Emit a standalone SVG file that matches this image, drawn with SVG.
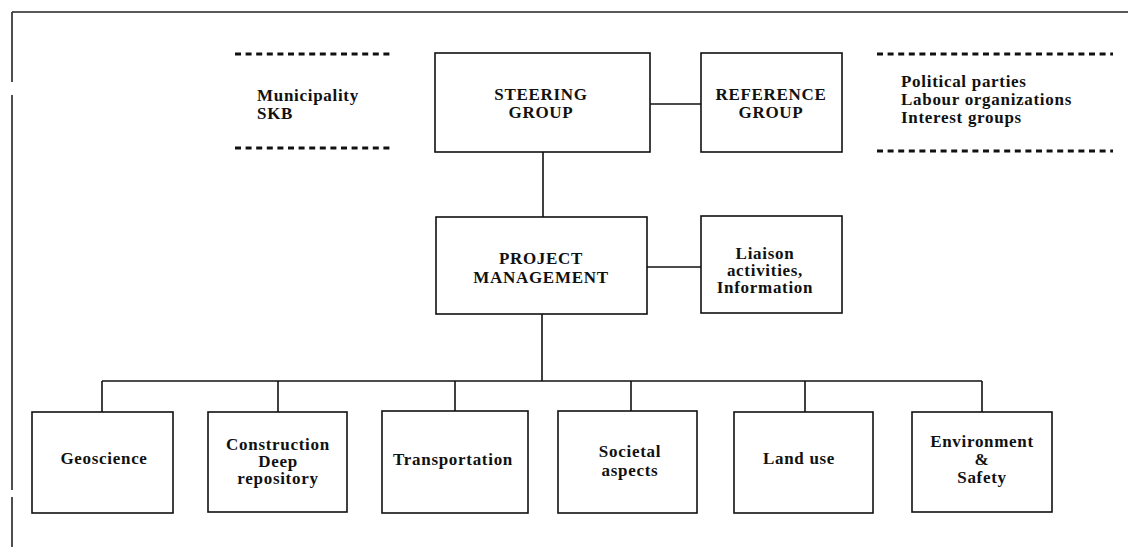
<svg xmlns="http://www.w3.org/2000/svg" width="1128" height="547" viewBox="0 0 1128 547">
  <style>
    .box { fill: #ffffff; stroke: #111111; stroke-width: 1.6; }
    .line { fill: none; stroke: #111111; stroke-width: 1.6; }
    .dash { fill: none; stroke: #111111; stroke-width: 3; stroke-dasharray: 6 4.6; }
    .frame { fill: none; stroke: #222222; stroke-width: 1.6; }
    text { font-family: "Liberation Serif", "Times New Roman", serif; font-weight: bold; font-size: 17px; letter-spacing: 0.7px; fill: #111111; }
    .c { text-anchor: middle; }
  </style>

  <!-- page frame (top rule and broken left edge) -->
  <g id="frame">
    <line class="frame" x1="12" y1="12" x2="1128" y2="12"/>
    <line class="frame" x1="12" y1="12" x2="12" y2="82"/>
    <line class="frame" x1="12" y1="95" x2="12" y2="490"/>
    <line class="frame" x1="12" y1="497" x2="12" y2="547"/>
  </g>

  <!-- connectors -->
  <g id="connectors">
    <line class="line" x1="650" y1="104" x2="701" y2="104"/>
    <line class="line" x1="543" y1="152" x2="543" y2="217"/>
    <line class="line" x1="647" y1="267" x2="701" y2="267"/>
    <line class="line" x1="542" y1="314" x2="542" y2="381"/>
    <line class="line" x1="102" y1="381" x2="982" y2="381"/>
    <line class="line" x1="102" y1="381" x2="102" y2="412"/>
    <line class="line" x1="278" y1="381" x2="278" y2="412"/>
    <line class="line" x1="455" y1="381" x2="455" y2="411"/>
    <line class="line" x1="631" y1="381" x2="631" y2="411"/>
    <line class="line" x1="805" y1="381" x2="805" y2="412"/>
    <line class="line" x1="982" y1="381" x2="982" y2="412"/>
  </g>

  <!-- side groups bracketed by dashed rules -->
  <g id="municipality">
    <line class="dash" x1="235" y1="54" x2="392" y2="54"/>
    <line class="dash" x1="235" y1="148" x2="392" y2="148"/>
    <text x="257" y="101">Municipality</text>
    <text x="257" y="119">SKB</text>
  </g>

  <g id="interest-parties">
    <line class="dash" x1="877" y1="54" x2="1113" y2="54"/>
    <line class="dash" x1="877" y1="151" x2="1113" y2="151"/>
    <text x="901" y="87">Political parties</text>
    <text x="901" y="105">Labour organizations</text>
    <text x="901" y="123">Interest groups</text>
  </g>

  <g id="steering-group">
    <rect class="box" x="435" y="53" width="215" height="99"/>
    <text class="c" x="541" y="100">STEERING</text>
    <text class="c" x="541" y="118">GROUP</text>
  </g>

  <g id="reference-group">
    <rect class="box" x="701" y="53" width="141" height="99"/>
    <text class="c" x="771" y="100">REFERENCE</text>
    <text class="c" x="771" y="118">GROUP</text>
  </g>

  <g id="project-management">
    <rect class="box" x="436" y="217" width="211" height="97"/>
    <text class="c" x="541" y="264">PROJECT</text>
    <text class="c" x="541" y="283">MANAGEMENT</text>
  </g>

  <g id="liaison">
    <rect class="box" x="701" y="216" width="141" height="97"/>
    <text class="c" x="765" y="259">Liaison</text>
    <text class="c" x="765" y="276">activities,</text>
    <text class="c" x="765" y="293">Information</text>
  </g>

  <g id="geoscience">
    <rect class="box" x="32" y="412" width="141" height="101"/>
    <text class="c" x="104" y="464">Geoscience</text>
  </g>

  <g id="construction">
    <rect class="box" x="208" y="412" width="139" height="100"/>
    <text class="c" x="278" y="450">Construction</text>
    <text class="c" x="278" y="467">Deep</text>
    <text class="c" x="278" y="484">repository</text>
  </g>

  <g id="transportation">
    <rect class="box" x="382" y="411" width="146" height="102"/>
    <text class="c" x="453" y="465">Transportation</text>
  </g>

  <g id="societal-aspects">
    <rect class="box" x="558" y="411" width="139" height="102"/>
    <text class="c" x="630" y="457">Societal</text>
    <text class="c" x="630" y="476">aspects</text>
  </g>

  <g id="land-use">
    <rect class="box" x="734" y="412" width="139" height="101"/>
    <text class="c" x="799" y="464">Land use</text>
  </g>

  <g id="environment-safety">
    <rect class="box" x="912" y="412" width="140" height="100"/>
    <text class="c" x="982" y="447">Environment</text>
    <text class="c" x="982" y="465">&amp;</text>
    <text class="c" x="982" y="483">Safety</text>
  </g>
</svg>
